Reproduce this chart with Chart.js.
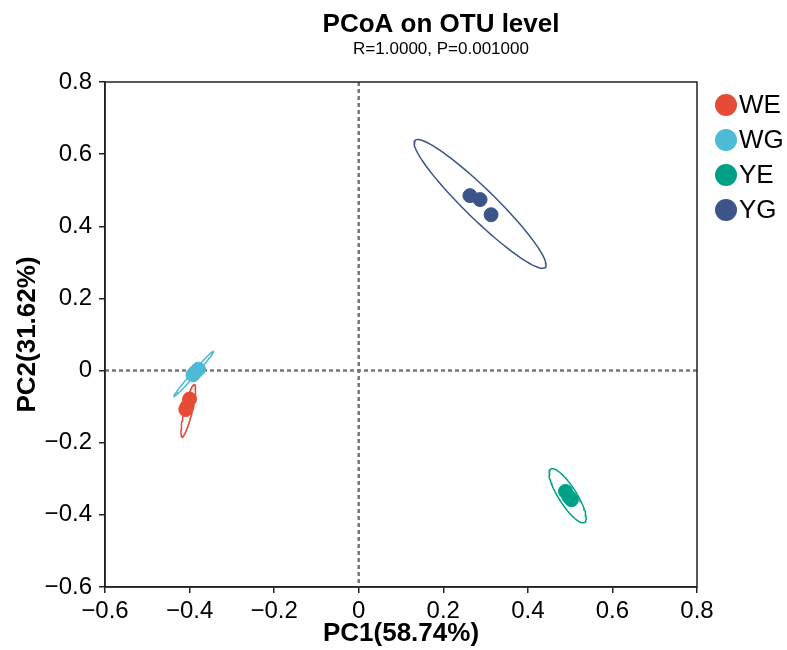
<!DOCTYPE html>
<html>
<head>
<meta charset="utf-8">
<script src="https://cdn.jsdelivr.net/npm/chart.js@4.4.1/dist/chart.umd.min.js"></script>
<style>
  html, body { margin: 0; padding: 0; background: #fff; }
  #wrap { width: 787px; height: 650px; }
</style>
</head>
<body>
<div id="wrap"><canvas id="pcoa"></canvas></div>
<script>
// groups and colours
const groups = ['WE', 'WG', 'YE', 'YG'];
const colors = ['#E64B35', '#4DBBD5', '#00A087', '#3C5488'];

// sample coordinates per group (PC1, PC2)
const pc1WE = [-0.400, -0.406, -0.409];
const pc2WE = [-0.079, -0.100, -0.108];
const pc1WG = [-0.392, -0.386, -0.379];
const pc2WG = [-0.012, -0.004, 0.004];
const pc1YE = [0.489, 0.497, 0.503];
const pc2YE = [-0.335, -0.350, -0.358];
const pc1YG = [0.263, 0.287, 0.313];
const pc2YG = [0.485, 0.474, 0.432];

// confidence ellipses: centre, major semi-axis vector, minor semi-axis vector (data units)
const ellCenter = [[-0.403, -0.111], [-0.390, -0.009], [0.494, -0.347], [0.287, 0.462]];
const ellMajor  = [[0.0147, 0.0726], [0.0467, 0.0624], [0.040, -0.074], [0.154, -0.176]];
const ellMinor  = [[0.0092, -0.0026], [0.0036, -0.0037], [0.018, 0.013], [0.025, 0.030]];

const axisTicks = [-0.6, -0.4, -0.2, 0, 0.2, 0.4, 0.6, 0.8];
const titleText = 'PCoA on OTU level';
const subtitleText = 'R=1.0000, P=0.001000';

const pc1 = [pc1WE, pc1WG, pc1YE, pc1YG];
const pc2 = [pc2WE, pc2WG, pc2YE, pc2YG];
const FONT = 'Liberation Sans, Arial, sans-serif';

function ellipsePath(i) {
  const pts = [];
  const c = ellCenter[i], a = ellMajor[i], b = ellMinor[i];
  for (let k = 0; k <= 90; k++) {
    const t = k / 90 * 2 * Math.PI;
    pts.push({ x: c[0] + Math.cos(t) * a[0] + Math.sin(t) * b[0],
               y: c[1] + Math.cos(t) * a[1] + Math.sin(t) * b[1] });
  }
  return pts;
}

const datasets = [];
groups.forEach((g, i) => {
  datasets.push({
    type: 'line',
    label: g + ' ellipse',
    data: ellipsePath(i),
    borderColor: colors[i],
    borderWidth: 1.5,
    pointRadius: 0,
    fill: false,
    tension: 0,
    order: 2
  });
});
groups.forEach((g, i) => {
  datasets.push({
    type: 'scatter',
    label: g,
    data: pc1[i].map((x, j) => ({ x: x, y: pc2[i][j] })),
    backgroundColor: colors[i],
    borderColor: colors[i],
    pointRadius: 7,
    pointHoverRadius: 7,
    order: 1
  });
});

// frame, dotted zero lines, the two title lines and the legend on the right
const decorations = {
  id: 'decorations',
  beforeDatasetsDraw(chart) {
    const { ctx, chartArea: a, scales } = chart;
    const x0 = scales.x.getPixelForValue(0);
    const y0 = scales.y.getPixelForValue(0);
    ctx.save();
    ctx.strokeStyle = '#777';
    ctx.lineWidth = 2.5;
    ctx.setLineDash([4, 3]);
    ctx.beginPath();
    ctx.moveTo(x0, a.top); ctx.lineTo(x0, a.bottom);
    ctx.moveTo(a.left, y0); ctx.lineTo(a.right, y0);
    ctx.stroke();
    ctx.restore();
  },
  afterDraw(chart) {
    const { ctx, chartArea: a } = chart;
    ctx.save();
    ctx.strokeStyle = '#222';
    ctx.lineWidth = 1.5;
    ctx.strokeRect(a.left, a.top, a.right - a.left, a.bottom - a.top);

    ctx.fillStyle = '#000';
    ctx.textAlign = 'center';
    ctx.textBaseline = 'alphabetic';
    ctx.font = 'bold 26px ' + FONT;
    ctx.fillText(titleText, 441, 32);
    ctx.font = '17px ' + FONT;
    ctx.fillText(subtitleText, 441, 54);

    // legend
    ctx.font = '26px ' + FONT;
    ctx.textAlign = 'left';
    ctx.textBaseline = 'middle';
    groups.forEach((g, i) => {
      const cy = a.top + 23 + i * 35;
      ctx.fillStyle = colors[i];
      ctx.beginPath();
      ctx.arc(a.right + 29, cy, 11, 0, 2 * Math.PI);
      ctx.fill();
      ctx.fillStyle = '#000';
      ctx.fillText(g, a.right + 42, cy + 1);
    });
    ctx.restore();
  }
};

const fmt = v => (Math.abs(v) < 1e-9 ? '0' : (v < 0 ? '\u2212' : '') + Math.abs(v).toFixed(1));

new Chart(document.getElementById('pcoa'), {
  type: 'scatter',
  data: { datasets: datasets },
  options: {
    responsive: true,
    maintainAspectRatio: false,
    animation: false,
    layout: { padding: { left: 0, right: 90, bottom: 0, top: 82 } },
    plugins: {
      legend: { display: false },
      tooltip: { enabled: false }
    },
    scales: {
      x: {
        type: 'linear',
        min: -0.6,
        max: 0.8,
        afterBuildTicks: s => { s.ticks = axisTicks.map(v => ({ value: v })); },
        afterFit: s => { s.height = 63; },
        ticks: { callback: fmt, color: '#000', padding: 4,
                 font: { family: FONT, size: 24 } },
        grid: { drawOnChartArea: false, drawTicks: true, tickLength: 6, color: '#222', lineWidth: 1.5 },
        border: { display: true, color: '#222', width: 1.5 },
        title: { display: true, text: 'PC1(58.74%)', color: '#000', padding: { top: 0, bottom: 1 },
                 font: { family: FONT, size: 26, weight: 'bold' } }
      },
      y: {
        type: 'linear',
        min: -0.6,
        max: 0.8,
        afterBuildTicks: s => { s.ticks = axisTicks.map(v => ({ value: v })); },
        afterFit: s => { s.width = 105; },
        ticks: { callback: fmt, color: '#000', padding: 7,
                 font: { family: FONT, size: 24 } },
        grid: { drawOnChartArea: false, drawTicks: true, tickLength: 6, color: '#222', lineWidth: 1.5 },
        border: { display: true, color: '#222', width: 1.5 },
        title: { display: true, text: 'PC2(31.62%)', color: '#000', padding: { top: 12, bottom: 0 },
                 font: { family: FONT, size: 26, weight: 'bold' } }
      }
    }
  },
  plugins: [decorations]
});
</script>
</body>
</html>
